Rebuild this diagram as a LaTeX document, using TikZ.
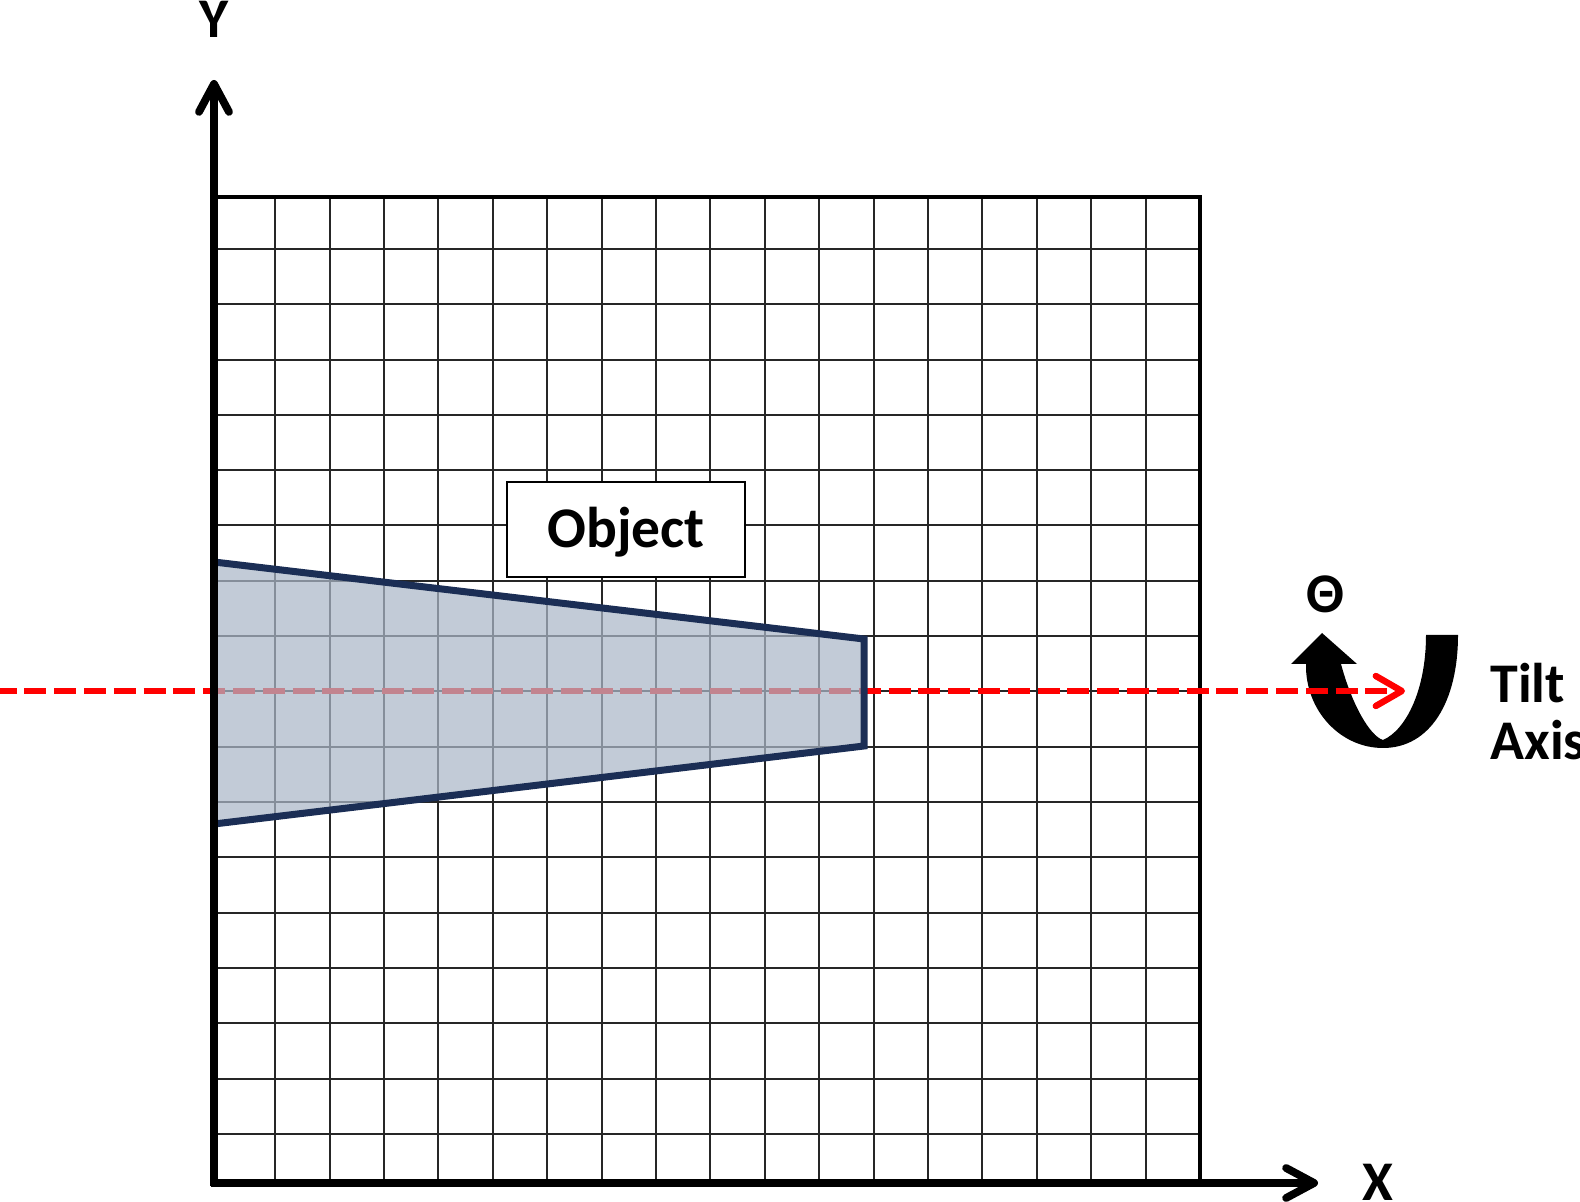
\documentclass[tikz,border=0pt]{standalone}
\usepackage{fontspec}
\setmainfont{Carlito}
\usetikzlibrary{arrows.meta}

\definecolor{objfill}{RGB}{171,183,199}
\definecolor{objline}{RGB}{27,46,85}

\begin{document}
\begin{tikzpicture}[x=0.5pt, y=-0.5pt,
    gridline/.style = {line width=1pt, black!85},
    axis/.style = {line width=3.9pt, -{Straight Barb[length=14pt, width=15pt, round]}},
    tiltline/.style = {red, line width=3.2pt, dash pattern=on 11pt off 3.9pt, dash phase=2.7pt,
        -{Straight Barb[length=13pt, width=15pt, round]}},
    label/.style = {font=\bfseries\fontsize{28}{34}\selectfont, inner sep=0pt},
    objbox/.style = {draw, line width=1.2pt, fill=white, minimum width=119pt, minimum height=47.5pt,
        inner sep=0pt, text height=22pt, text depth=3.5pt, font=\bfseries\fontsize{28.75}{34}\selectfont}]
    \useasboundingbox (0,0) rectangle (1580,1202);
    % Grid
    \foreach \i in {1,...,17}
        \draw[gridline] ({220.8+54.4*\i},197) -- ({220.8+54.4*\i},1183);
    \foreach \j in {0,...,16}
        \draw[gridline] (214,{249+55.3*\j}) -- (1200,{249+55.3*\j});
    \draw[line width=1.6pt] (214,197) -- (1200,197) -- (1200,1183);
    % Rotation arrow
    \fill (1458,635) .. controls (1458,702) and (1430,748) .. (1383,748)
        .. controls (1340,748) and (1305,710) .. (1306,664)
        -- (1291,664) -- (1322,633) -- (1357,664) -- (1341,664)
        .. controls (1352,705) and (1370,736) .. (1383,740)
        .. controls (1406,730) and (1426,690) .. (1426,635) -- cycle;
    % Coordinates
    \coordinate (tl) at (0,691);
    \coordinate (tr) at (1405,691);
    \coordinate (ybot) at (214,1186);
    \coordinate (ytop) at (214,80);
    \coordinate (xleft) at (211,1183);
    \coordinate (xright) at (1318,1183);
    % Tilt axis
    \draw[tiltline] (tl) -- (tr);
    % Object
    \filldraw[fill=objfill, fill opacity=0.72, draw=objline, line width=3.5pt]
        (214,562) -- (864,639) -- (864,746) -- (214,824) -- cycle;
    % Axes
    \draw[axis] (ybot) -- (ytop);
    \draw[axis] (xleft) -- (xright);
    % Nodes
    \node[objbox] (obj) at (626,529.5) {Object};
    \node[label, anchor=base] (ylab) at (214,38) {Y};
    \node[label, anchor=base] (xlab) at (1378,1200) {X};
    \node[label, anchor=base] (theta) at (1325,613) {Θ};
    \node[label, anchor=base west] (tilt) at (1490,703) {Tilt};
    \node[label, anchor=base west] (axisl) at (1490,760) {Axis};
\end{tikzpicture}
\end{document}
